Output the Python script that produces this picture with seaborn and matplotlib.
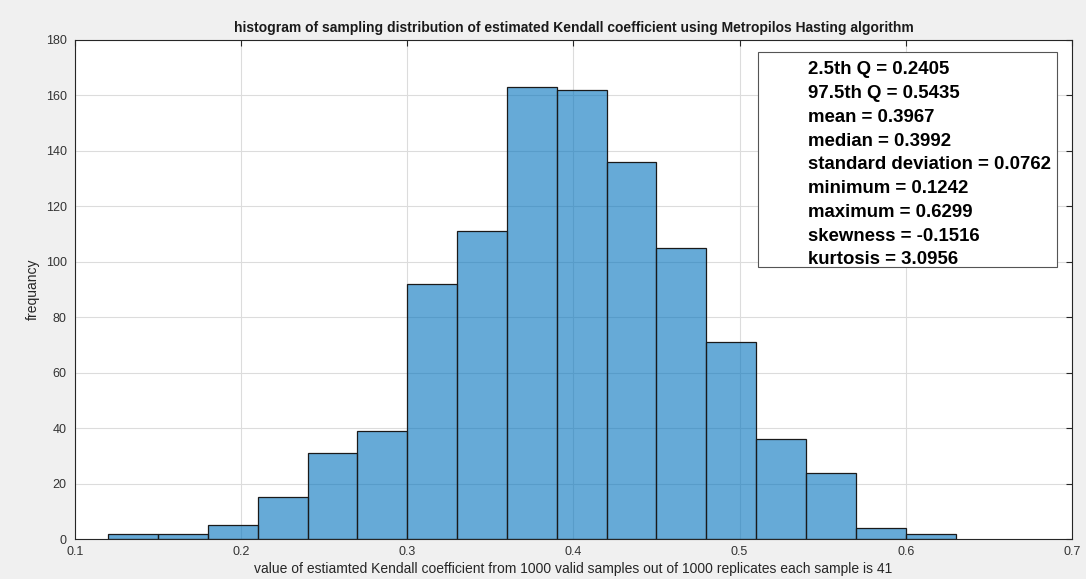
import numpy as np
import pandas as pd
import matplotlib
matplotlib.use("Agg")
import matplotlib.pyplot as plt
import seaborn as sns

bin_edges = [0.12, 0.15, 0.18, 0.21, 0.24, 0.27, 0.30, 0.33, 0.36, 0.39,
             0.42, 0.45, 0.48, 0.51, 0.54, 0.57, 0.60, 0.63]
counts = [2, 2, 5, 15, 31, 39, 92, 111, 163, 162, 136, 105, 71, 36, 24, 4, 2]
x_ticks = [0.1, 0.2, 0.3, 0.4, 0.5, 0.6, 0.7]
y_ticks = [0, 20, 40, 60, 80, 100, 120, 140, 160, 180]
stats_lines = ["2.5th Q = 0.2405", "97.5th Q = 0.5435", "mean = 0.3967",
               "median = 0.3992", "standard deviation = 0.0762",
               "minimum = 0.1242", "maximum = 0.6299",
               "skewness = -0.1516", "kurtosis = 3.0956"]
title = "histogram of sampling distribution of estimated Kendall coefficient using Metropilos Hasting algorithm"
xlabel = "value of estiamted Kendall coefficient from 1000 valid samples out of 1000 replicates each sample is 41"
ylabel = "frequancy"

sns.set_style("white")
plt.rcParams['font.family'] = ['Liberation Sans', 'DejaVu Sans']

centers = [(bin_edges[i] + bin_edges[i + 1]) / 2 for i in range(len(counts))]
df = pd.DataFrame({"value": centers, "count": counts})

fig = plt.figure(figsize=(10.86, 5.79), dpi=100, facecolor="#f0f0f0")
ax = fig.add_axes([0.069, 0.069, 0.918, 0.862])
ax.set_facecolor("white")
ax.set_axisbelow(True)
ax.grid(True, color="#dcdcdc", linewidth=0.8)

sns.histplot(data=df, x="value", weights="count", bins=bin_edges, ax=ax,
             color=(0, 0.447, 0.741), alpha=0.6, edgecolor="#1a1a1a",
             linewidth=0.9)

ax.set_xlim(0.1, 0.7)
ax.set_ylim(0, 180)
ax.set_xticks(x_ticks)
ax.set_xticklabels([f"{t:g}" for t in x_ticks])
ax.set_yticks(y_ticks)
ax.tick_params(direction="in", length=4, width=0.8, colors="#262626",
               labelsize=9, top=True, right=True, labelcolor="#333333")
ax.tick_params(axis="x", pad=5)
ax.tick_params(axis="y", pad=6)
for s in ax.spines.values():
    s.set_color("#262626")
    s.set_linewidth(0.8)

ax.set_title(title, fontsize=10, fontweight="bold", color="#1a1a1a", pad=6)
ax.set_xlabel(xlabel, fontsize=10, color="#262626", labelpad=3)
ax.set_ylabel(ylabel, fontsize=10, color="#262626", labelpad=4)

box = plt.Rectangle((0.685, 0.545), 0.300, 0.431, transform=ax.transAxes,
                    facecolor="white", edgecolor="#555555", linewidth=0.8,
                    zorder=5)
ax.add_patch(box)
ax.text(0.735, 0.957, "\n".join(stats_lines), transform=ax.transAxes,
        ha="left", va="top", fontsize=13.4, fontweight="bold",
        linespacing=1.52, color="black", zorder=6)

fig.savefig("out.png", dpi=100, facecolor=fig.get_facecolor())
